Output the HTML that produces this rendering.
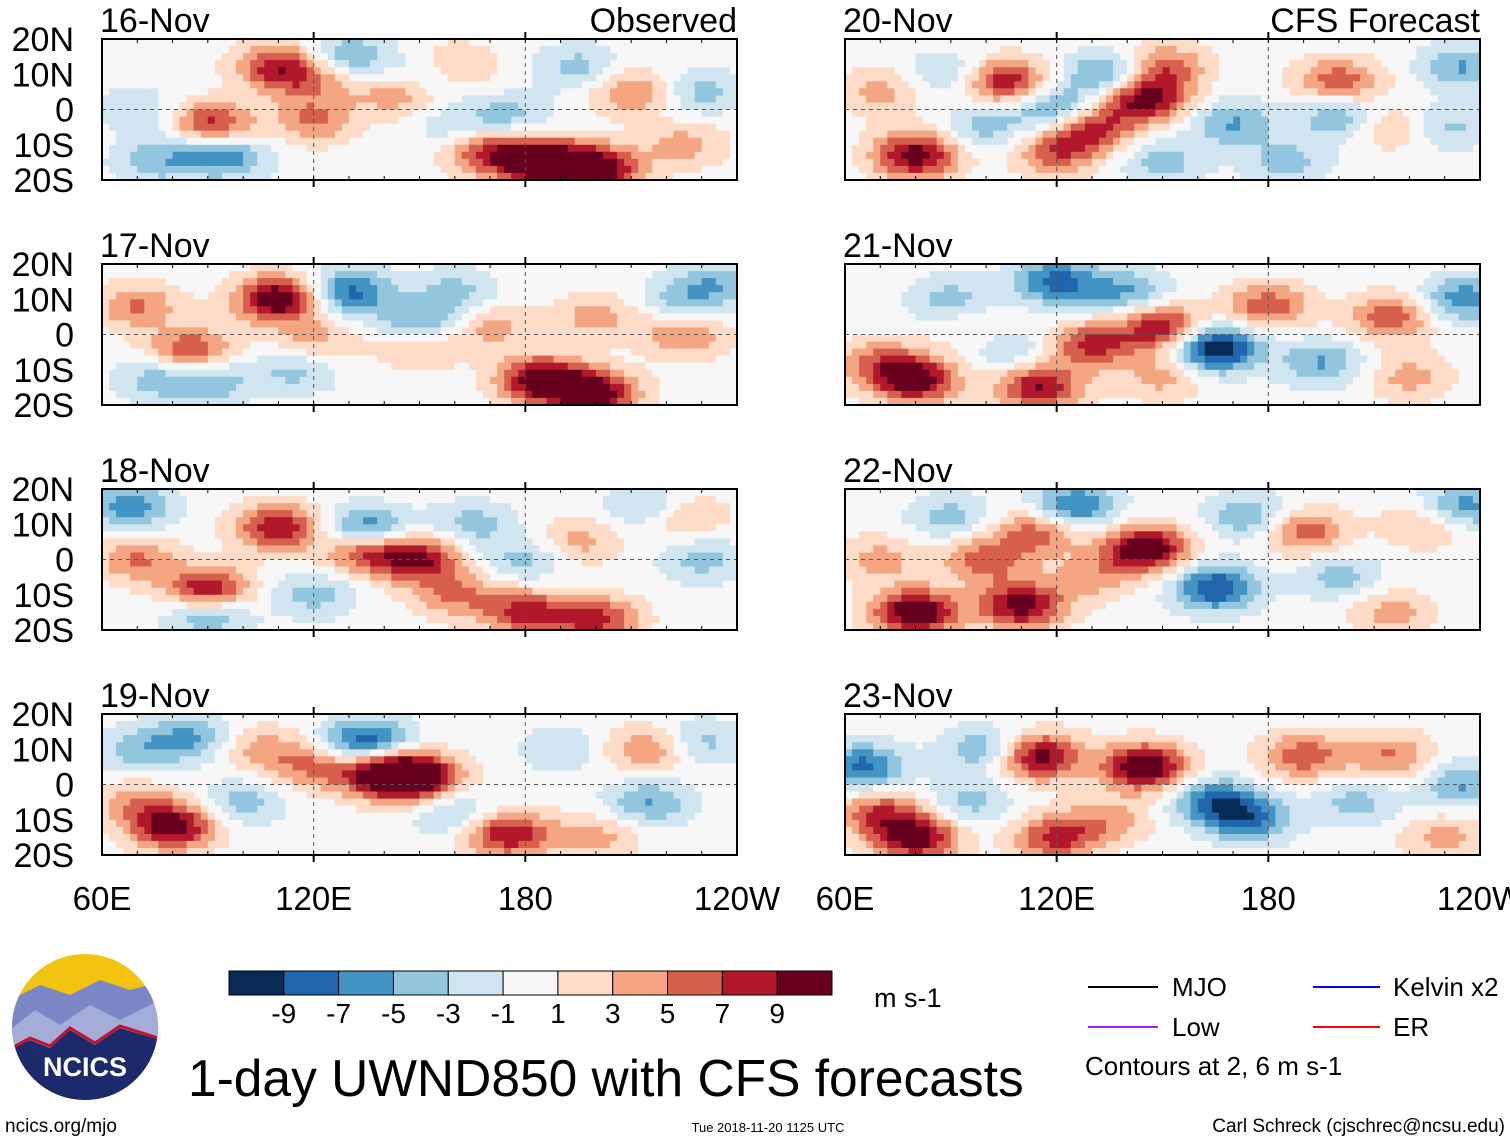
<!DOCTYPE html>
<html><head><meta charset="utf-8"><style>
body{margin:0;background:#fff;width:1510px;height:1142px;overflow:hidden;font-family:"Liberation Sans",sans-serif}
svg text{font-family:"Liberation Sans",sans-serif}
</style></head><body>
<svg id="chart" width="1510" height="1142" viewBox="0 0 1510 1142" xmlns="http://www.w3.org/2000/svg"></svg>
<script>
// Data: panel names, blob anomalies [lon, lat, amplitude m/s]
const panelDates=["16-Nov","17-Nov","18-Nov","19-Nov","20-Nov","21-Nov","22-Nov","23-Nov"];
const blobs16=[[90,-5,8],[110,12,6],[120,-3,4],[185,-15,9],[200,-17,9],[170,-12,6],[145,5,5],[210,5,4],[160,12,3],[95,-13,-5],[85,-8,-3],[130,15,-4],[150,8,-4],[175,-2,-3],[230,5,-3],[70,0,-2],[75,-15,-3],[120,8,3],[225,-10,3],[195,12,-3],[160,-5,-2]];
const blobs17=[[110,10,9],[85,-5,6],[185,-13,9],[200,-17,8],[150,-2,5],[70,8,4],[225,0,4],[170,2,3],[150,2,-6],[130,12,-6],[90,-13,-4],[115,-10,-3],[225,10,-3],[235,15,-3],[75,-12,-3],[200,5,3],[160,12,-3],[120,-2,3]];
const blobs18=[[110,9,7],[90,-9,8],[135,3,7],[150,0,7],[180,-15,6],[200,-17,6],[70,0,4],[225,12,3],[195,5,3],[68,15,-5],[135,8,-7],[90,-15,-5],[180,0,-3],[215,15,-3],[230,0,-3],[120,-10,-3],[165,10,-3],[160,-10,4]];
const blobs19=[[80,-12,8],[140,3,9],[150,2,8],[175,-14,7],[215,10,4],[120,5,4],[135,12,-7],[85,13,-4],[70,10,-3],[100,-5,-3],[215,-5,-4],[190,10,-2],[230,12,-3],[160,-8,-3],[105,10,3],[200,-15,3],[70,-5,3]];
const blobs20=[[80,-13,8],[105,8,7],[145,3,8],[150,12,5],[130,-5,6],[120,-12,5],[200,8,5],[70,5,3],[215,-5,3],[135,10,-5],[120,0,-5],[170,-4,-4],[200,-2,-4],[230,-5,-3],[100,-5,-3],[235,12,-4],[150,-15,-3],[90,10,-3],[185,-15,-3]];
const blobs21=[[80,-13,8],[115,-15,7],[150,2,7],[130,-3,6],[180,8,5],[215,5,5],[70,-8,4],[100,0,3],[165,-4,-9],[120,15,-6],[105,-3,-4],[195,-8,-4],[235,10,-5],[140,12,-4],[90,10,-3],[220,-12,3],[150,-12,3]];
const blobs22=[[80,-15,9],[110,-13,8],[145,3,9],[115,8,5],[100,0,5],[190,8,5],[225,10,3],[165,-8,-7],[125,15,-6],[175,12,-4],[235,15,-5],[90,12,-3],[200,-5,-3],[215,-15,3],[130,-5,3],[70,0,3]];
const blobs23=[[80,-15,8],[115,8,8],[145,5,9],[120,-15,6],[190,8,5],[215,8,4],[70,-8,5],[65,5,-6],[100,10,-4],[165,-5,-6],[175,-10,-5],[205,-5,-3],[235,0,-4],[95,-5,-3],[135,-10,3],[230,-15,3]];
const allBlobs=[blobs16,blobs17,blobs18,blobs19,blobs20,blobs21,blobs22,blobs23];
const levelTicks=[-9,-7,-5,-3,-1,1,3,5,7,9];
const levelColors=["#082b55","#2166ac","#4393c3","#92c5de","#d1e5f0","#f7f7f7","#fddbc7","#f4a582","#d6604d","#b2182b","#67001f"];
const lonTicks=[60,120,180,240];
const lonLabels=["60E","120E","180","120W"];
const latTicks=[20,10,0,-10,-20];
const latLabels=["20N","10N","0","10S","20S"];

const NS="http://www.w3.org/2000/svg";
const svg=document.getElementById('chart');
function mk(tag,attrs,parent){const e=document.createElementNS(NS,tag);for(const k in attrs)e.setAttribute(k,attrs[k]);(parent||svg).appendChild(e);return e;}
function colorFor(v){let i=0;while(i<levelTicks.length&&v>levelTicks[i])i++;return levelColors[i];}
const PW=635,PH=141;
const colX=[102,845],rowY=[39,264,489,714];
for(let p=0;p<8;p++){
  const x0=colX[p<4?0:1],y0=rowY[p%4];
  const xs=lon=>x0+(lon-60)/180*PW;
  const ys=lat=>y0+(20-lat)/40*PH;
  const g=mk('g',{});
  
  
  const b=allBlobs[p];
  for(let lon=60;lon<240;lon+=2){
    for(let lat=20;lat>-20;lat-=2){
      const cl=lon+1,ct=lat-1;let v=0;
      for(const k of b){const dx=(cl-k[0])/12,dy=(ct-k[1])/6.5;v+=k[2]*1.3*Math.exp(-(dx*dx+dy*dy));}
      const r=mk('rect',{x:xs(lon).toFixed(1),y:ys(lat).toFixed(1),width:(PW/90+0.6).toFixed(1),height:(PH/20+0.6).toFixed(1),fill:colorFor(v)},g);
      
      
    }
  }
  mk('line',{x1:x0,x2:x0+PW,y1:ys(0),y2:ys(0),stroke:'#555','stroke-dasharray':'4,4','stroke-width':1},g);
  [120,180].forEach(l=>mk('line',{x1:xs(l),x2:xs(l),y1:y0,y2:y0+PH,stroke:'#555','stroke-dasharray':'4,4','stroke-width':1},g));
  for(let l=60;l<=240;l+=10){mk('line',{x1:xs(l),x2:xs(l),y1:y0,y2:y0+4,stroke:'#000'},g);mk('line',{x1:xs(l),x2:xs(l),y1:y0+PH,y2:y0+PH-4,stroke:'#000'},g);}
  [120,180].forEach(l=>{mk('line',{x1:xs(l),x2:xs(l),y1:y0,y2:y0-7,stroke:'#000','stroke-width':2},g);mk('line',{x1:xs(l),x2:xs(l),y1:y0+PH,y2:y0+PH+7,stroke:'#000','stroke-width':2},g);});
  const fr=mk('rect',{x:x0,y:y0,width:PW,height:PH,fill:'none',stroke:'#000','stroke-width':2},g);
  
  const t=mk('text',{x:x0-2,y:y0-7,'font-size':34},g);t.textContent=panelDates[p];
  
  if(p%4===0){const s=mk('text',{x:x0+PW,y:y0-7,'font-size':34,'text-anchor':'end'},g);s.textContent=p===0?'Observed':'CFS Forecast';
    }
  if(p<4){latTicks.forEach((lt,i)=>{const a=mk('text',{x:74,y:ys(lt)+12,'font-size':34,'text-anchor':'end'},g);a.textContent=latLabels[i];
    });}
  if(p%4===3){lonTicks.forEach((l,i)=>{const a=mk('text',{x:xs(l),y:910,'font-size':33,'text-anchor':'middle'},g);a.textContent=lonLabels[i];
    });}
}
// colorbar
const cb=mk('g',{});
const cbw=603/11;
levelColors.forEach((c,i)=>{mk('rect',{x:229+i*cbw,y:971,width:cbw,height:24,fill:c,stroke:'#000','stroke-width':1},cb);});
levelTicks.forEach((v,i)=>{const t=mk('text',{x:229+(i+1)*cbw,y:1023,'font-size':28,'text-anchor':'middle'},cb);t.textContent=v;});
</script>
<svg width="1510" height="1142" style="position:absolute;left:0;top:0">
 <g>
  <clipPath id="lc"><circle cx="85" cy="1027" r="73"/></clipPath>
  <g clip-path="url(#lc)">
   <rect x="10" y="950" width="150" height="160" fill="#f2c40f"/>
   <path d="M10 1000 L40 985 L70 995 L100 980 L130 990 L160 982 L160 1110 L10 1110Z" fill="#7b86c6"/>
   <path d="M10 1030 L35 1010 L60 1025 L90 1005 L120 1020 L160 1000 L160 1110 L10 1110Z" fill="#a4acd8"/>
   <path d="M10 1050 L30 1040 L50 1048 L70 1030 L95 1045 L120 1028 L160 1040 L160 1110 L10 1110Z" fill="#1c2a6b"/>
   <path d="M12 1048 L30 1038 L50 1046 L70 1028 L95 1043 L120 1026 L158 1038" fill="none" stroke="#c8102e" stroke-width="3"/>
  </g>
  <text x="85" y="1076" font-size="27" font-weight="bold" fill="#fff" text-anchor="middle">NCICS</text>
 </g>
 <text x="874" y="1007" font-size="27">m s-1</text>
 <text x="188" y="1096" font-size="51.5">1-day UWND850 with CFS forecasts</text>
 <text x="5" y="1132" font-size="19">ncics.org/mjo</text>
 <text x="768" y="1132" font-size="13" text-anchor="middle">Tue 2018-11-20 1125 UTC</text>
 <text x="1505" y="1132" font-size="19" text-anchor="end">Carl Schreck (cjschrec@ncsu.edu)</text>
 <g><line x1="1088" x2="1158" y1="987" y2="987" stroke="#000" stroke-width="2"/><text x="1172" y="996" font-size="26">MJO</text></g>
 <g><line x1="1313" x2="1380" y1="987" y2="987" stroke="#0000ff" stroke-width="2"/><text x="1393" y="996" font-size="26">Kelvin x2</text></g>
 <g><line x1="1088" x2="1158" y1="1027" y2="1027" stroke="#a020f0" stroke-width="2"/><text x="1172" y="1036" font-size="26">Low</text></g>
 <g><line x1="1313" x2="1380" y1="1027" y2="1027" stroke="#ff0000" stroke-width="2"/><text x="1393" y="1036" font-size="26">ER</text></g>
 <text x="1085" y="1075" font-size="26">Contours at 2, 6 m s-1</text>
</svg>
</body></html>
